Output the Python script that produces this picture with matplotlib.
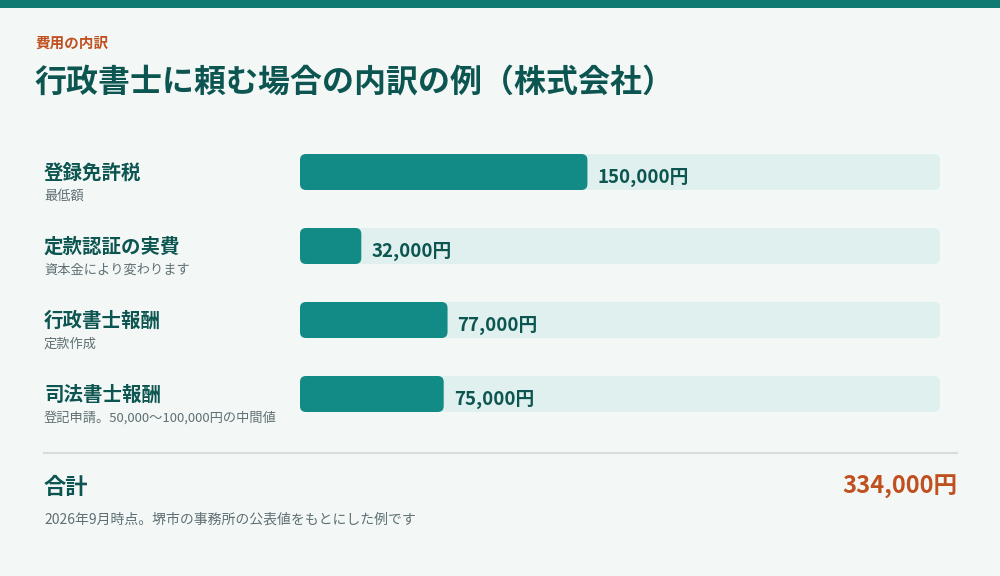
import matplotlib
matplotlib.use("Agg")
import matplotlib.pyplot as plt
from matplotlib.patches import FancyBboxPatch

plt.rcParams['font.family'] = ['Noto Sans CJK JP', 'DejaVu Sans']

categories = ["登録免許税", "定款認証の実費", "行政書士報酬", "司法書士報酬"]
notes = ["最低額", "資本金により変わります", "定款作成", "登記申請。50,000〜100,000円の中間値"]
values = [150000, 32000, 77000, 75000]
total = sum(values)
title = "行政書士に頼む場合の内訳の例（株式会社）"
kicker = "費用の内訳"
footnote = "2026年9月時点。堺市の事務所の公表値をもとにした例です"

W, H = 1000, 576
BG = "#f3f8f7"; TEAL = "#128a85"; TRACK = "#dff0ee"; DARK = "#0d5550"
ORANGE = "#c0501f"; GREY = "#5f6f73"

fig = plt.figure(figsize=(W/100, H/100), dpi=100, facecolor=BG)
def fx(x): return x / W
def fy(y): return 1 - y / H

# top band
fig.add_artist(plt.Rectangle((0, fy(8)), 1, 8/H, transform=fig.transFigure, color="#0f7a72", lw=0))
fig.text(fx(35), fy(43), kicker, color=ORANGE, fontsize=10.5, fontweight="bold", va="center")
fig.text(fx(34), fy(83), title, color=DARK, fontsize=23, fontweight="bold", va="center")

# bar axes: x in value units, y in pixel units
ax = fig.add_axes([fx(300), fy(430), fx(640), (430-140)/H])
ax.set_xlim(0, total); ax.set_ylim(430, 140)
ax.axis("off"); ax.patch.set_alpha(0)
xper = total / 640.0
aspect = 1 / xper
bh = 36
for i, (c, n, v) in enumerate(zip(categories, notes, values)):
    yc = 172 + i * 74
    for width, col in ((total, TRACK), (v, TEAL)):
        ax.add_patch(FancyBboxPatch((0, yc - bh/2), width, bh,
                     boxstyle=f"round,pad=0,rounding_size={6*xper}",
                     mutation_aspect=aspect, fc=col, ec="none"))
    ax.text(v + 10*xper, yc + 5, f"{v:,}円", color=DARK, fontsize=13.5,
            fontweight="bold", va="center", ha="left")
    fig.text(fx(44), fy(yc + 1), c, color=DARK, fontsize=14, fontweight="bold", va="center")
    fig.text(fx(44), fy(yc + 24), n, color=GREY, fontsize=9.5, va="center")

fig.add_artist(plt.Line2D([fx(44), fx(957)], [fy(453), fy(453)], transform=fig.transFigure,
                          color="#d5dedd", lw=1.5))
fig.text(fx(44), fy(487), "合計", color=DARK, fontsize=16, fontweight="bold", va="center")
fig.text(fx(957), fy(487), f"{total:,}円", color=ORANGE, fontsize=17, fontweight="bold",
         va="center", ha="right")
fig.text(fx(44), fy(520), footnote, color=GREY, fontsize=10, va="center")

fig.savefig("out.png", dpi=100, facecolor=BG)
